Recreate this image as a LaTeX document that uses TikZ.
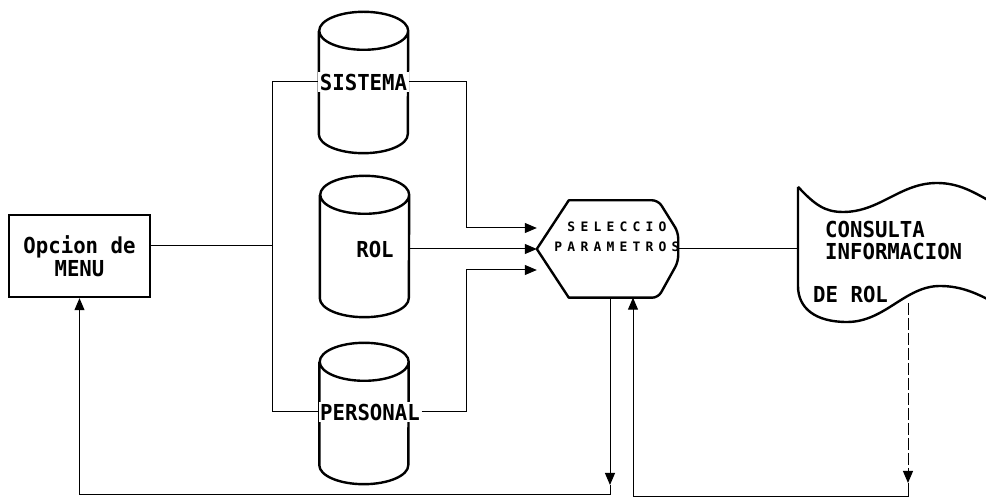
\documentclass[tikz,border=0pt]{standalone}
\usepackage{fontspec}
\usepackage{tikz}
\usetikzlibrary{arrows.meta}
\newfontfamily\plotfont{DejaVu Sans Mono}[FakeStretch=0.94]
\newfontfamily\thinfont{DejaVu Sans Mono}[LetterSpace=40]
\tikzset{
  link/.style={line width=1pt},
  flow/.style={link, -{Triangle[length=12pt,width=10pt]}},
  shapeline/.style={line width=2.4pt, line join=round},
  txt/.style={font={\plotfont\bfseries\fontsize{22}{22}\selectfont}, inner sep=1.5pt},
  tag/.style={txt, fill=white},
  procbox/.style={txt, draw, line width=2.4pt, minimum width=141pt, minimum height=82pt, align=center},
  dbbox/.style={minimum width=89pt, minimum height=141pt, inner sep=0pt},
}

\begin{document}
\begin{tikzpicture}[x=1pt,y=1pt]
        \useasboundingbox (0,0) rectangle (986,500);
        \clip (0,0) rectangle (986,500);
        % menu box
        \node[procbox, font={\plotfont\bfseries\fontsize{22}{23}\selectfont}] (menu) at (79.5,244) {Opcion de\\MENU};
        % data stores
        \node[dbbox] (sistema) at (363.5,417.5) {};
        \node[dbbox] (rol) at (364.5,253.5) {};
        \node[dbbox] (personal) at (364,86.5) {};
        \foreach \db in {sistema,rol,personal}{
          \draw[shapeline] ([yshift=-19pt]\db.north west) -- ([yshift=19pt]\db.south west)
            arc[start angle=180, end angle=360, x radius=44.5pt, y radius=19pt]
            -- ([yshift=-19pt]\db.north east)
            arc[start angle=0, end angle=180, x radius=44.5pt, y radius=19pt]
            arc[start angle=180, end angle=360, x radius=44.5pt, y radius=19pt];
        }
        \node[tag] (sisLbl) at (363.5,418) {SISTEMA};
        \node[txt] (rolLbl) at (375,251) {ROL};
        \node[tag] (perLbl) at (370,88) {PERSONAL};
        % selection step
        \node[minimum width=141pt, minimum height=97pt, inner sep=0pt] (selec) at (607.5,251) {};
        \draw[shapeline] (selec.west) -- ([xshift=32pt]selec.north west)
          [rounded corners=6pt] -- ([xshift=-20pt]selec.north east) -- ([yshift=-32pt]selec.north east)
          -- ([yshift=36pt]selec.south east) -- ([xshift=-20pt]selec.south east)
          [sharp corners] -- ([xshift=32pt]selec.south west) -- cycle;
        \node[font={\thinfont\bfseries\fontsize{13}{20}\selectfont}, align=center] (selecTxt) at (617,263) {SELECCIO\\PARAMETROS};
        % output document
        \node[minimum width=190pt, minimum height=103pt, inner sep=0pt, anchor=west] (consulta) at (798,261.5) {};
        \draw[shapeline] (consulta.north west) .. controls (815,295) and (825,288) .. (843,288)
          .. controls (880,288) and (900,317) .. (937,317) .. controls (960,317) and (975,307) .. (995,296);
        \draw[shapeline] (consulta.north west) -- (798,214) .. controls (798,192) and (815,178) .. (847,178)
          .. controls (885,178) and (905,214) .. (940,214) .. controls (962,214) and (978,206) .. (995,197);
        \node[txt, align=left, anchor=north west, inner sep=0pt] (consultaTxt) at (825,279) {CONSULTA\\INFORMACION\\[21pt]\hspace*{-12pt}DE ROL};
        % connectors
        \coordinate (jTop) at (272,418);
        \coordinate (jMid) at (272,254);
        \coordinate (jBot) at (272,88);
        \coordinate (sisTurn) at (466,418);
        \coordinate (perTurn) at (466,88);
        \coordinate (dnTip) at (610,15);
        \coordinate (dnTurn) at (610,5);
        \coordinate (docOut) at (908,197);
        \coordinate (docTip) at (908,17);
        \coordinate (docTurn) at (908,3);
        \draw[link] ([yshift=10pt]menu.east) -- (jMid);
        \draw[link] (jTop) -- (jBot);
        \draw[link] (jTop) -- (sisLbl.west);
        \draw[link] (jBot) -- (perLbl.west);
        \draw[flow] (sisLbl.east) -- (sisTurn) |- ([yshift=21pt]selec.west);
        \draw[flow] (rol.east |- selec.west) -- (selec.west);
        \draw[flow] (perLbl.east) -- (perTurn) |- ([yshift=-21pt]selec.west);
        \draw[link] (selec.east) -- (selec.east -| consulta.west);
        \draw[flow] (dnTip |- selec.south) -- (dnTip);
        \draw[flow] (dnTip) -- (dnTurn) -| (menu.south);
        \draw[flow, dash pattern=on 12pt off 3pt] (docOut) -- (docTip);
        \draw[flow] (docTip) -- (docTurn) -| ([xshift=25.5pt]selec.south);
      \end{tikzpicture}
\end{document}
